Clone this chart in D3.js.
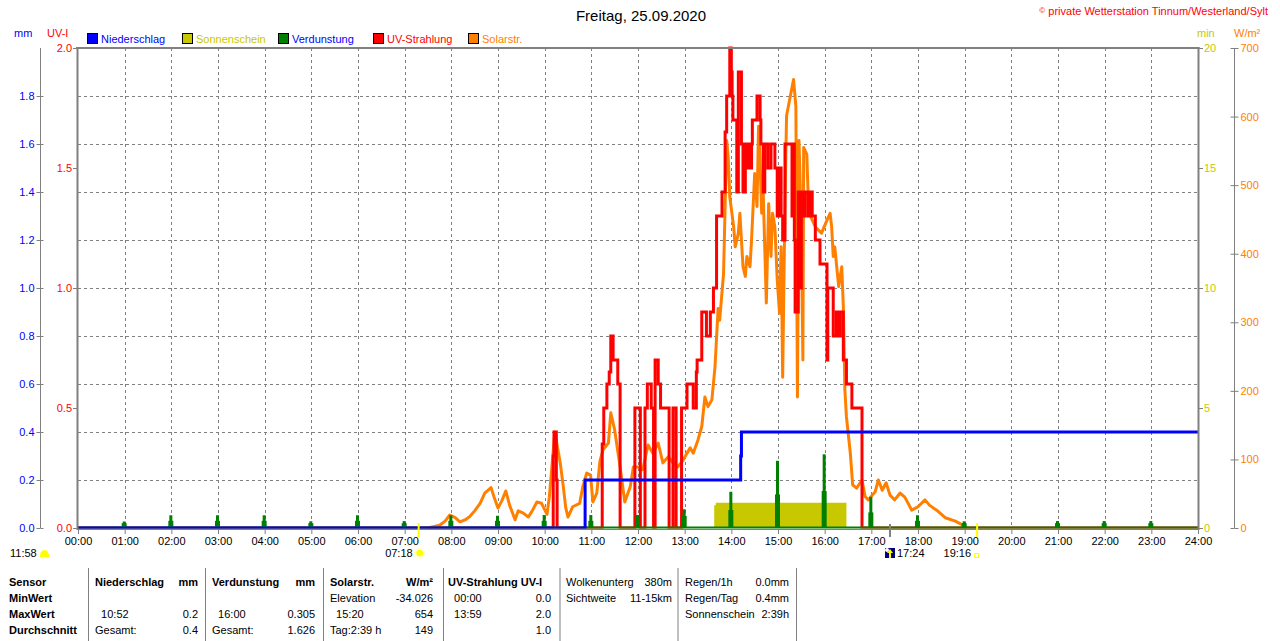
<!DOCTYPE html>
<html><head><meta charset="utf-8">
<script src="https://cdn.jsdelivr.net/npm/d3@7"></script>
<style>
body{margin:0;background:#fff}
svg{display:block}
text{font-family:"Liberation Sans",Arial,sans-serif}
</style></head>
<body><svg id="c" width="1280" height="641"></svg>
<script>
// ---------------- DATA ----------------
const hourLabels = ["00:00","01:00","02:00","03:00","04:00","05:00","06:00","07:00","08:00","09:00","10:00","11:00","12:00","13:00","14:00","15:00","16:00","17:00","18:00","19:00","20:00","21:00","22:00","23:00","24:00"];
const mmTicks = [0.0,0.2,0.4,0.6,0.8,1.0,1.2,1.4,1.6,1.8];
const gridLevels = [0.2,0.4,0.6,0.8,1.0,1.2,1.4,1.6,1.8];
const uvTicks = [0.0,0.5,1.0,1.5,2.0];
const minTicks = [0,5,10,15,20];
const wTicks = [0,100,200,300,400,500,600,700];

// Niederschlag (mm), step after
const rain = [["00:00",0],["10:52",0.2],["14:12",0.3],["14:13",0.4],["24:00",0.4]];
// Sonnenschein (min), step after
const sun = [["13:38",0.95],["13:40",1.05],["16:28",0]];
// Verdunstung (mm) per hour: peak and shoulder
const evapHours = ["01:00","02:00","03:00","04:00","05:00","06:00","07:00","08:00","09:00","10:00","11:00","12:00","13:00","14:00","15:00","16:00","17:00","18:00","19:00","20:00","21:00","22:00","23:00"];
const evapPeak = [0.027,0.053,0.053,0.053,0.028,0.053,0.029,0.053,0.051,0.054,0.054,0.054,0.078,0.151,0.28,0.307,0.13,0.053,0.028,0,0.029,0.029,0.029];
const evapShoulder = [0.02,0.03,0.03,0.03,0.02,0.03,0.02,0.03,0.03,0.03,0.03,0.03,0.05,0.075,0.14,0.154,0.065,0.03,0.02,0,0.02,0.02,0.02];
// UV-Strahlung (UV-I), step after
const uv = [["00:00",0],["10:11",0.3],["10:12",0.4],["10:15",0.2],["10:16",0],
["11:14",0.35],["11:16",0.5],["11:20",0.6],["11:23",0.65],["11:25",0.8],["11:28",0.7],["11:34",0.6],["11:37",0],
["11:56",0.5],["12:03",0],["12:09",0.5],["12:12",0.6],["12:17",0.5],["12:20",0],["12:22",0.7],["12:26",0.6],["12:29",0.5],["12:40",0],
["12:45",0.5],["12:49",0],["12:56",0.5],["13:03",0.6],["13:11",0.5],["13:15",0.65],["13:16",0.7],["13:22",0.9],["13:28",0.8],["13:33",0.9],
["13:37",1.0],["13:41",1.3],["13:48",1.4],["13:52",1.65],["13:54",1.8],["13:58",2.0],["14:00",1.9],["14:01",1.8],["14:02",1.7],["14:07",1.4],
["14:09",1.9],["14:13",1.6],["14:15",1.4],["14:18",1.6],["14:20",1.5],["14:22",1.6],["14:24",1.5],["14:26",1.6],["14:27",1.7],["14:33",1.8],
["14:37",1.7],["14:38",1.6],["14:41",1.4],["14:43",1.6],["14:47",1.5],["14:51",1.6],["14:56",1.5],["14:59",1.3],["15:01",1.5],["15:04",1.3],
["15:06",1.2],["15:09",1.6],["15:18",1.3],["15:19",1.6],["15:21",1.2],["15:22",0.9],["15:26",1.4],["15:28",1.0],["15:30",1.4],["15:32",1.3],
["15:35",1.4],["15:39",1.3],["15:41",1.4],["15:44",1.3],["15:48",1.2],["15:54",1.1],["16:03",0.7],["16:04",1.0],["16:11",0.8],["16:15",0.9],
["16:18",0.8],["16:20",0.9],["16:24",0.7],["16:28",0.6],["16:35",0.5],["16:48",0],["24:00",0]];
// Solarstrahlung (W/m²)
const solar = [["07:30",0],["07:45",4],["07:52",10],["07:58",19],["08:05",15],["08:11",9],["08:18",12],["08:24",17],["08:30",25],["08:37",36],
["08:43",51],["08:51",59],["08:55",45],["09:00",29],["09:05",40],["09:10",54],["09:15",33],["09:22",12],["09:26",25],["09:32",22],["09:39",16],
["09:44",25],["09:50",38],["09:56",36],["10:03",20],["10:06",45],["10:09",85],["10:13",140],["10:20",95],["10:24",60],["10:27",30],["10:30",16],
["10:36",31],["10:45",36],["10:49",60],["10:54",80],["10:59",77],["11:02",38],["11:07",51],["11:11",97],["11:15",114],["11:22",124],["11:25",168],
["11:30",143],["11:37",89],["11:43",38],["11:50",60],["11:54",89],["12:00",89],["12:06",85],["12:13",121],["12:19",109],["12:26",124],["12:32",95],
["12:39",104],["12:45",95],["12:51",89],["12:58",99],["13:07",117],["13:11",109],["13:17",128],["13:22",148],["13:26",191],["13:30",177],
["13:35",187],["13:39",235],["13:43",320],["13:45",303],["13:50",371],["13:54",565],["13:56",541],["13:58",483],["14:03",439],["14:05",410],
["14:09",430],["14:11",459],["14:13",420],["14:15",381],["14:18",367],["14:20",396],["14:24",381],["14:26",420],["14:30",517],["14:33",469],
["14:35",586],["14:37",532],["14:39",459],["14:41",488],["14:45",328],["14:48",473],["14:51",396],["14:53",459],["14:56",439],["14:59",362],
["15:02",313],["15:04",410],["15:06",220],["15:09",478],["15:11",601],["15:15",625],["15:20",654],["15:23",615],["15:25",191],["15:27",565],
["15:30",439],["15:32",245],["15:33",555],["15:37",545],["15:39",478],["15:42",454],["15:48",439],["15:56",430],["16:03",449],["16:07",459],
["16:09",439],["16:11",396],["16:13",410],["16:18",352],["16:22",381],["16:24",323],["16:26",201],["16:28",162],["16:33",109],["16:36",63],
["16:41",58],["16:48",70],["16:52",46],["16:56",41],["17:05",53],["17:09",70],["17:14",55],["17:19",66],["17:24",48],["17:30",41],["17:37",51],
["17:43",45],["17:52",26],["18:00",31],["18:09",41],["18:15",33],["18:24",26],["18:35",15],["18:48",10],["18:58",4],["19:02",0]];

const sunrise = "07:18", sunset = "19:16", moonrise = "17:24", dayLength = "11:58";

const legendLabels = ["Niederschlag","Sonnenschein","Verdunstung","UV-Strahlung","Solarstr."];
const legendFill = ["#0000ff","#c8c800","#008000","#ff0000","#ff8000"];
const legendText = ["#0000ff","#c8c800","#0000ff","#ff0000","#ff8000"];

// table
const tableCols = [
 {x:9, rows:[["Sensor",""],["MinWert",""],["MaxWert",""],["Durchschnitt",""]], boldAll:true},
 {x:95, r:198, rows:[["Niederschlag","mm"],["",""],["  10:52","0.2"],["Gesamt:","0.4"]]},
 {x:212, r:315, rows:[["Verdunstung","mm"],["",""],["  16:00","0.305"],["Gesamt:","1.626"]]},
 {x:330, r:433, rows:[["Solarstr.","W/m²"],["Elevation","-34.026"],["  15:20","654"],["Tag:2:39 h","149"]]},
 {x:448, r:551, rows:[["UV-Strahlung UV-I",""],["  00:00","0.0"],["  13:59","2.0"],["","1.0"]]},
 {x:566, r:672, rows:[["Wolkenunterg","380m"],["Sichtweite","11-15km"],["",""],["",""]], plain:true},
 {x:685, r:789, rows:[["Regen/1h","0.0mm"],["Regen/Tag","0.4mm"],["Sonnenschein","2:39h"],["",""]], plain:true}
];
const tableSeps = [88,205,323,443,559.5,677.5,796];

// ---------------- DRAW ----------------
const svg = d3.select("#c");
const L=78, R=1198, T=48, B=528;
const toMin = s => { const p = s.split(":").map(Number); return p[0]*60+p[1]; };
const x = d3.scaleLinear().domain([0,1440]).range([L,R]);
const yMM = d3.scaleLinear().domain([0,2]).range([B,T]);
const yUV = d3.scaleLinear().domain([0,2]).range([B,T]);
const yMin = d3.scaleLinear().domain([0,20]).range([B,T]);
const yW = d3.scaleLinear().domain([0,700]).range([B,T]);
const GRAY = "#808080";

svg.append("defs").append("clipPath").attr("id","plot")
  .append("rect").attr("x",L).attr("y",T-2).attr("width",R-L).attr("height",B-T+2.5);

// grid
const grid = svg.append("g").attr("stroke",GRAY).attr("stroke-width",1).attr("stroke-dasharray","3,3");
grid.selectAll("line.h").data(gridLevels).join("line")
  .attr("x1",L).attr("x2",R).attr("y1",d=>Math.round(yMM(d))+0.5).attr("y2",d=>Math.round(yMM(d))+0.5);
grid.selectAll("line.v").data(hourLabels.slice(1,-1)).join("line")
  .attr("x1",d=>Math.round(x(toMin(d)))+0.5).attr("x2",d=>Math.round(x(toMin(d)))+0.5).attr("y1",T).attr("y2",B);

const plot = svg.append("g").attr("clip-path","url(#plot)");

// sunshine
plot.append("path").datum(sun)
  .attr("fill","#c8c800")
  .attr("d", d3.area().curve(d3.curveStepAfter).x(d=>x(toMin(d[0]))).y0(yMin(0)).y1(d=>yMin(d[1])));

// solar
plot.append("path").datum(solar)
  .attr("fill","none").attr("stroke","#ff8000").attr("stroke-width",3).attr("stroke-linejoin","round")
  .attr("d", d3.line().x(d=>x(toMin(d[0]))).y(d=>yW(d[1])));

// uv
plot.append("path").datum(uv)
  .attr("fill","none").attr("stroke","#ff0000").attr("stroke-width",3)
  .attr("d", d3.line().curve(d3.curveStepAfter).x(d=>x(toMin(d[0]))).y(d=>yUV(d[1])));

// evaporation baseline + spikes
plot.append("line").attr("x1",x(0)).attr("x2",x(1440)).attr("y1",yMM(0)).attr("y2",yMM(0))
  .attr("stroke","#008000").attr("stroke-width",3);
const ev = plot.append("g").attr("fill","#008000");
ev.selectAll("rect.s").data(evapHours).join("rect")
  .attr("x",d=>x(toMin(d))-3).attr("width",5)
  .attr("y",(d,i)=>yMM(evapShoulder[i])).attr("height",(d,i)=>yMM(0)-yMM(evapShoulder[i]));
ev.selectAll("rect.p").data(evapHours).join("rect")
  .attr("x",d=>x(toMin(d))-2).attr("width",3)
  .attr("y",(d,i)=>yMM(evapPeak[i])).attr("height",(d,i)=>yMM(0)-yMM(evapPeak[i]));

// rain
plot.append("path").datum(rain)
  .attr("fill","none").attr("stroke","#0000ff").attr("stroke-width",3)
  .attr("d", d3.line().curve(d3.curveStepAfter).x(d=>x(toMin(d[0]))).y(d=>yMM(d[1])));

// frame
const fr = svg.append("g").attr("stroke",GRAY).attr("fill","none");
fr.append("line").attr("x1",76).attr("x2",1199.5).attr("y1",48).attr("y2",48).attr("stroke-width",2);
fr.append("line").attr("x1",77.5).attr("x2",77.5).attr("y1",47).attr("y2",530).attr("stroke-width",2);
fr.append("line").attr("x1",1198.5).attr("x2",1198.5).attr("y1",47).attr("y2",530).attr("stroke-width",2);
fr.append("line").attr("x1",77).attr("x2",1199).attr("y1",529.5).attr("y2",529.5).attr("stroke-width",1);

function styleAxis(g, color){
  g.attr("font-family",'"Liberation Sans",Arial,sans-serif').attr("font-size",11);
  g.selectAll("line").attr("stroke",GRAY);
  g.selectAll("path").attr("stroke",GRAY);
  g.selectAll("text").attr("fill",color);
}
// mm axis
const gmm = svg.append("g").attr("transform","translate(40.5,0)")
  .call(d3.axisLeft(yMM).tickValues(mmTicks).tickFormat(d3.format(".1f")).tickSize(4).tickSizeOuter(0).tickPadding(2));
gmm.select(".domain").attr("d",`M0,${T}V${B}`);
gmm.selectAll(".tick").append("line").attr("x1",0).attr("x2",3);
styleAxis(gmm,"#0000ff");
// uv axis
const guv = svg.append("g").attr("transform","translate(77,0)")
  .call(d3.axisLeft(yUV).tickValues(uvTicks).tickFormat(d3.format(".1f")).tickSize(4).tickPadding(1));
guv.select(".domain").remove();
styleAxis(guv,"#ff0000");
// min axis
const gmin = svg.append("g").attr("transform","translate(1198,0)")
  .call(d3.axisRight(yMin).tickValues(minTicks).tickSize(5).tickPadding(1));
gmin.select(".domain").remove();
styleAxis(gmin,"#c8c800");
// W/m2 axis
const gw = svg.append("g").attr("transform","translate(1234.5,0)")
  .call(d3.axisRight(yW).tickValues(wTicks).tickSize(4).tickSizeOuter(0).tickPadding(2));
gw.select(".domain").attr("d",`M0,${T}V${B}`);
gw.selectAll(".tick").append("line").attr("x1",-4).attr("x2",0);
styleAxis(gw,"#ff8000");
// x axis
const gx = svg.append("g").attr("transform","translate(0,529)")
  .call(d3.axisBottom(x).tickValues(hourLabels.map(toMin)).tickFormat((d,i)=>hourLabels[i]).tickSize(5).tickPadding(3));
gx.select(".domain").remove();
styleAxis(gx,"#000");

// markers on baseline
svg.append("line").attr("x1",x(toMin(sunrise))).attr("x2",x(toMin(sunrise))).attr("y1",523).attr("y2",537).attr("stroke","#ffff00").attr("stroke-width",2);
svg.append("line").attr("x1",x(toMin(sunset))).attr("x2",x(toMin(sunset))).attr("y1",523).attr("y2",537).attr("stroke","#ffff00").attr("stroke-width",2);
svg.append("line").attr("x1",x(toMin(moonrise))).attr("x2",x(toMin(moonrise))).attr("y1",524).attr("y2",537).attr("stroke",GRAY).attr("stroke-width",2);

const lab = svg.append("g").attr("font-size",11).attr("fill","#000");
lab.append("text").attr("x",10).attr("y",557).text(dayLength);
svg.append("path").attr("d","M40,557 Q40,550 44.5,550 Q49,550 49,557 Z").attr("fill","#ffff00");
lab.append("text").attr("x",x(toMin(sunrise))-6).attr("y",557).attr("text-anchor","end").text(sunrise);
const sx = x(toMin(sunrise));
svg.append("circle").attr("cx",sx+1).attr("cy",553).attr("r",3.5).attr("fill","#ffff00");
svg.append("circle").attr("cx",sx+1).attr("cy",553).attr("r",5).attr("fill","none").attr("stroke","#ffff80").attr("stroke-width",1).attr("stroke-dasharray","1.5,1.5");
const mx = x(toMin(moonrise));
svg.append("rect").attr("x",mx-5).attr("y",548).attr("width",10).attr("height",10).attr("fill","#000080");
svg.append("circle").attr("cx",mx-3).attr("cy",550).attr("r",2).attr("fill","#fff");
svg.append("path").attr("d",`M${mx},549 L${mx+3},553 L${mx+1},553 L${mx+1},558 L${mx-1},558 L${mx-1},553 L${mx-3},553 Z`).attr("fill","#ffff00");
lab.append("text").attr("x",mx+7).attr("y",557).text(moonrise);
lab.append("text").attr("x",x(toMin(sunset))-6).attr("y",557).attr("text-anchor","end").text(sunset);
svg.append("rect").attr("x",x(toMin(sunset))-2.5).attr("y",553.5).attr("width",4).attr("height",4).attr("fill","none").attr("stroke","#ffff00");

// title & header
svg.append("text").attr("x",641).attr("y",21).attr("text-anchor","middle").attr("font-size",15).attr("fill","#000").text("Freitag, 25.09.2020");
const cp = svg.append("text").attr("x",1268).attr("y",15).attr("text-anchor","end").attr("font-size",11).attr("fill","#ff0000");
cp.append("tspan").attr("font-size",8).attr("dy",-2).text("©");
cp.append("tspan").attr("dy",2).text(" private Wetterstation Tinnum/Westerland/Sylt");

svg.append("text").attr("x",14).attr("y",37).attr("font-size",11).attr("fill","#0000ff").text("mm");
svg.append("text").attr("x",47).attr("y",37).attr("font-size",11).attr("fill","#ff0000").text("UV-I");
svg.append("text").attr("x",1197).attr("y",37).attr("font-size",11).attr("fill","#c8c800").text("min");
const wl = svg.append("text").attr("x",1234).attr("y",37).attr("font-size",11).attr("fill","#ff8000").text("W/m²");

// legend
const legX = [87,182,278,373,468];
const lg = svg.append("g").selectAll("g").data(legendLabels).join("g").attr("transform",(d,i)=>`translate(${legX[i]},33)`);
lg.append("rect").attr("x",0.5).attr("y",0.5).attr("width",10).attr("height",10).attr("fill",(d,i)=>legendFill[i]).attr("stroke","#000");
lg.append("text").attr("x",14).attr("y",9.5).attr("font-size",11).attr("fill",(d,i)=>legendText[i]).text(d=>d);

// table
const rowY = [586,602,618,634];
const tb = svg.append("g").attr("font-size",11).attr("fill","#000");
tableCols.forEach((c,ci)=>{
  c.rows.forEach((r,ri)=>{
    const bold = c.boldAll || (ri===0 && !c.plain);
    if(r[0]) tb.append("text").attr("x",c.x).attr("y",rowY[ri]).attr("font-weight",bold?"bold":"normal")
      .attr("xml:space","preserve").style("white-space","pre").text(r[0]);
    if(r[1]) tb.append("text").attr("x",c.r).attr("y",rowY[ri]).attr("text-anchor","end").attr("font-weight",bold?"bold":"normal").text(r[1]);
  });
});
svg.append("g").attr("stroke",GRAY).selectAll("line").data(tableSeps).join("line")
  .attr("x1",d=>d+0.5).attr("x2",d=>d+0.5).attr("y1",568).attr("y2",641);
</script></body></html>
